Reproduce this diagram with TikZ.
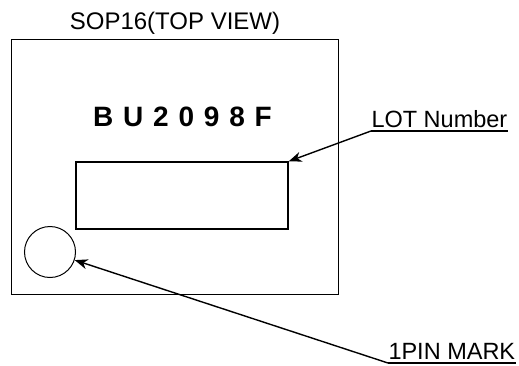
\documentclass[tikz,border=0pt]{standalone}
\usepackage{fontspec}
\setmainfont{Liberation Sans}
\usetikzlibrary{arrows.meta}
\newcommand\partgap{\spaceskip=9.8pt\relax}
\tikzset{
    callout/.style={inner sep=0pt, text depth=3.5pt, font=\fontsize{23.5}{26}\selectfont},
    pointer/.style={line width=1.4pt, -{Stealth[length=13pt, width=10pt, inset=4pt]}}
}
\begin{document}
\begin{tikzpicture}[x=1pt, y=-1pt, line width=1pt]
    \useasboundingbox (0,0) rectangle (519,365);
    \draw (11,39) rectangle (338,294);
    \node (title) [anchor=base, font=\fontsize{24}{26}\selectfont] at (175,29) {SOP16(TOP VIEW)};
    \node (part) [anchor=base, font=\fontsize{28}{30}\selectfont\bfseries] at (182.5,126.7) {\partgap B U 2 0 9 8 F};
    \node (lotbox) [draw, line width=1.3pt, minimum width=212pt, minimum height=67pt, inner sep=0pt] at (182,195.5) {};
    \node (mark) [draw, circle, minimum size=51pt, inner sep=0pt] at (50,252) {};
    \node (lot) [callout, anchor=base west] at (371,127) {LOT Number};
    \node (pin) [callout, anchor=base west] at (388,359) {1PIN MARK};
    \draw[line width=1.3pt] (lot.south west) -- (lot.south east);
    \draw[line width=1.3pt] (pin.south west) -- (pin.south east);
    \draw[pointer] (lot.south west) -- (lotbox.north east);
    \draw[pointer] (pin.south west) -- (mark);
\end{tikzpicture}
\end{document}
